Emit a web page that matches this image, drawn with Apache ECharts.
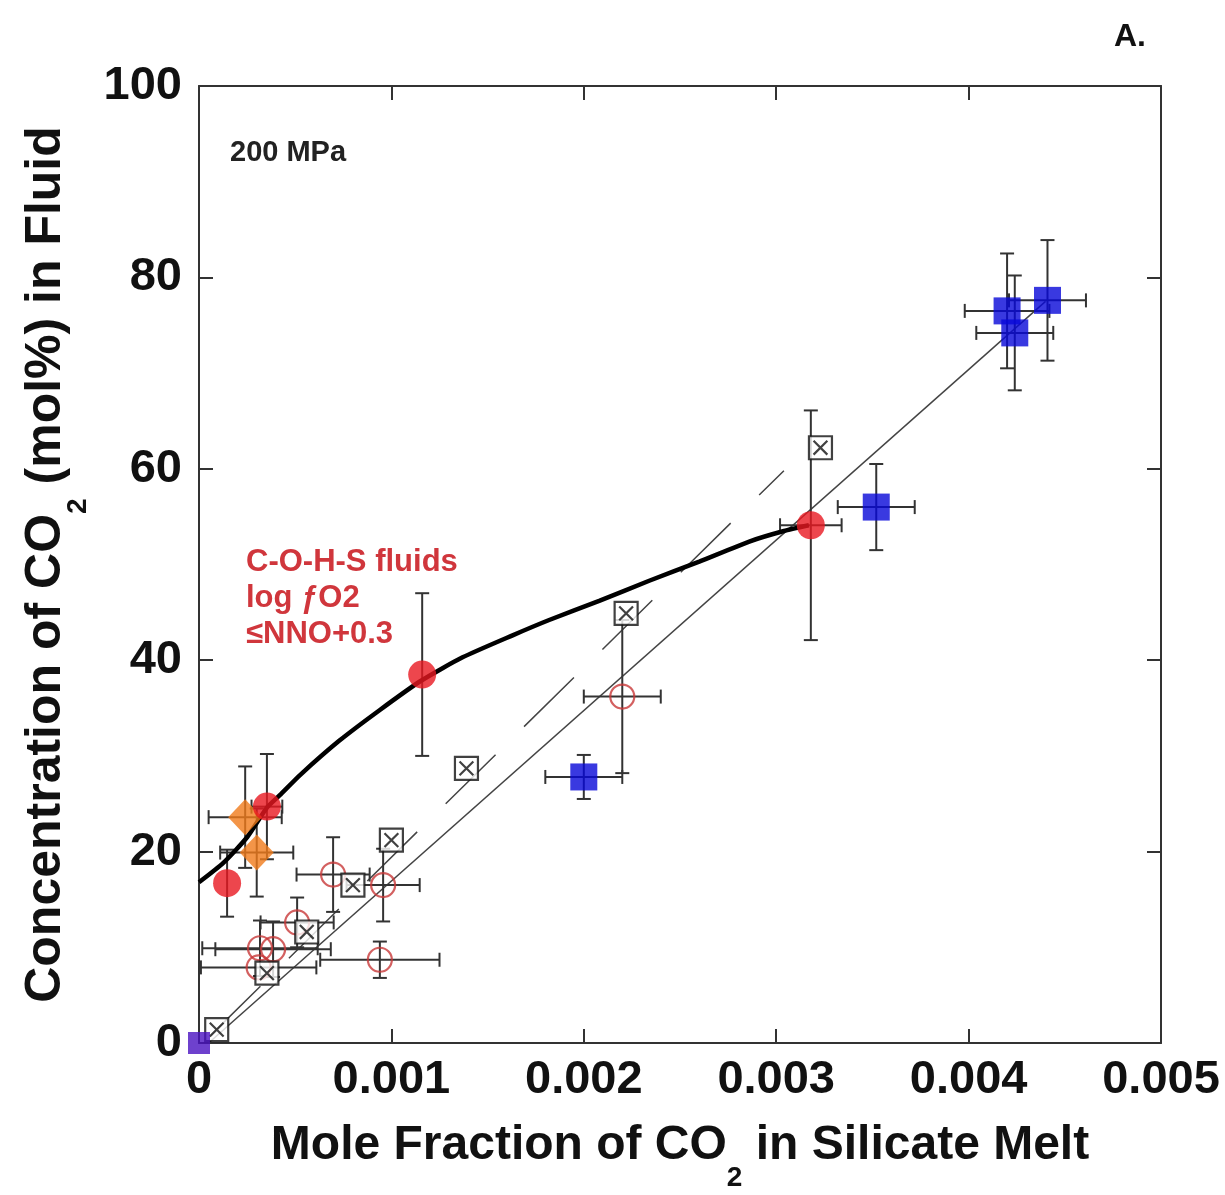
<!DOCTYPE html>
<html>
<head>
<meta charset="utf-8">
<script src="https://cdn.jsdelivr.net/npm/echarts@6/dist/echarts.min.js"></script>
<style>
  html, body { margin: 0; padding: 0; background: #fff; }
  #chart { width: 1225px; height: 1195px; }
</style>
</head>
<body>
<div id="chart"></div>
<script>
// blue filled squares
var blueX = [0.0042, 0.00424, 0.00441, 0.00352, 0.0020];
var blueY = [76.5, 74.2, 77.6, 56.0, 27.8];
var blueXErr = [0.00022, 0.0002, 0.0002, 0.0002, 0.0002];
var blueYErr = [6.0, 6.0, 6.3, 4.5, 2.3];

// red filled circles (C-O-H-S fluids)
var redX = [0.000146, 0.000353, 0.00116, 0.00318];
var redY = [16.7, 24.7, 38.5, 54.1];
var redXErr = [0, 0.00008, 0, 0.00016];
var redYErr = [3.5, 5.5, 8.5, 12];

// orange diamonds
var orangeX = [0.00024, 0.0003];
var orangeY = [23.6, 19.9];
var orangeXErr = [0.00019, 0.00019];
var orangeYErr = [5.3, 4.6];

// open red circles
var openX = [0.000697, 0.000957, 0.00051, 0.000317, 0.000385, 0.00031, 0.00094, 0.0022];
var openY = [17.6, 16.5, 12.6, 9.9, 9.8, 7.9, 8.7, 36.2];
var openXErr = [0.00019, 0.00019, 0.00019, 0.0003, 0.0003, 0.0003, 0.00031, 0.0002];
var openYErr = [3.9, 3.8, 2.6, 2.9, 2.9, 0, 1.9, 8];

// crossed open squares
var crossX = [0.000092, 0.000353, 0.00056, 0.0008, 0.001, 0.00139, 0.00222, 0.00323];
var crossY = [1.4, 7.3, 11.6, 16.5, 21.2, 28.7, 44.9, 62.2];

// origin point
var originX = [0];
var originY = [0];

// thick black trend curve
var curveX = [0, 0.000125, 0.00025, 0.000353, 0.00042, 0.000525, 0.00073, 0.00094, 0.00115, 0.00137, 0.00163, 0.00182, 0.00208, 0.00234, 0.0026, 0.00286, 0.00304, 0.00317];
var curveY = [16.8, 18.8, 21.5, 24.6, 25.9, 28.0, 31.6, 34.8, 37.8, 40.3, 42.6, 44.2, 46.2, 48.3, 50.3, 52.4, 53.5, 54.1];

// thin straight lines
var solidLineX = [0.00005, 0.0044];
var solidLineY = [0, 77.5];
var dashLineX = [0.00006, 0.00304];
var dashLineY = [0.8, 59.8];

var xTicks = [0, 0.001, 0.002, 0.003, 0.004, 0.005];
var yTicks = [0, 20, 40, 60, 80, 100];

function pts(xs, ys) {
  return xs.map(function (x, i) { return [x, ys[i]]; });
}
function errPts(xs, ys, ex, ey) {
  return xs.map(function (x, i) { return [x, ys[i], ex[i], ey[i]]; });
}

function renderErr(params, api) {
  var x = api.value(0), y = api.value(1), ex = api.value(2), ey = api.value(3);
  var cap = 7;
  var st = { stroke: '#333', lineWidth: 2 };
  var kids = [];
  if (ey > 0) {
    var t = api.coord([x, y + ey]);
    var b = api.coord([x, Math.max(0, y - ey)]);
    kids.push({ type: 'line', shape: { x1: t[0], y1: t[1], x2: b[0], y2: b[1] }, style: st });
    kids.push({ type: 'line', shape: { x1: t[0] - cap, y1: t[1], x2: t[0] + cap, y2: t[1] }, style: st });
    kids.push({ type: 'line', shape: { x1: b[0] - cap, y1: b[1], x2: b[0] + cap, y2: b[1] }, style: st });
  }
  if (ex > 0) {
    var l = api.coord([Math.max(0, x - ex), y]);
    var r = api.coord([x + ex, y]);
    kids.push({ type: 'line', shape: { x1: l[0], y1: l[1], x2: r[0], y2: r[1] }, style: st });
    kids.push({ type: 'line', shape: { x1: l[0], y1: l[1] - cap, x2: l[0], y2: l[1] + cap }, style: st });
    kids.push({ type: 'line', shape: { x1: r[0], y1: r[1] - cap, x2: r[0], y2: r[1] + cap }, style: st });
  }
  return { type: 'group', children: kids };
}

function errSeries(data) {
  return {
    type: 'custom',
    renderItem: renderErr,
    data: data,
    z: 2,
    silent: true
  };
}

var font = '"Liberation Sans", Arial, sans-serif';
var frameLine = { onZero: false, lineStyle: { color: '#333', width: 2 } };
var frameTick = { inside: true, length: 14, lineStyle: { color: '#333', width: 2 } };
var myChart = echarts.init(document.getElementById('chart'));

var option = {
  backgroundColor: '#fff',
  animation: false,
  textStyle: { fontFamily: font },
  grid: { left: 199, right: 64, top: 86, bottom: 152, outerBoundsMode: 'none', containLabel: false },
  xAxis: [{
    type: 'value',
    min: 0, max: 0.005, interval: 0.001,
    axisLine: frameLine,
    axisTick: frameTick,
    splitLine: { show: false },
    axisLabel: {
      color: '#111', fontSize: 47, fontWeight: 'bold', margin: 14,
      formatter: function (v) { return xTicks.indexOf(v) >= 0 ? (v === 0 ? '0' : v.toFixed(3)) : ''; }
    },
    name: '{a|Mole Fraction of CO}{s|2}{a| in Silicate Melt}',
    nameLocation: 'middle',
    nameGap: 57,
    nameTextStyle: {
      rich: {
        a: { fontSize: 48, fontWeight: 'bold', color: '#111', fontFamily: font },
        s: { fontSize: 28, fontWeight: 'bold', color: '#111', fontFamily: font, padding: [64, 0, 0, 0] }
      }
    }
  }, {
    type: 'value', position: 'top',
    min: 0, max: 0.005, interval: 0.001,
    axisLine: frameLine,
    axisTick: frameTick,
    axisLabel: { show: false },
    splitLine: { show: false }
  }],
  yAxis: [{
    type: 'value',
    min: 0, max: 100, interval: 20,
    axisLine: frameLine,
    axisTick: frameTick,
    splitLine: { show: false },
    axisLabel: { color: '#111', fontSize: 47, fontWeight: 'bold', margin: 17 },
    name: '{a|Concentration of CO}{s|2}{a| (mol%) in Fluid}',
    nameLocation: 'middle',
    nameGap: 107,
    nameRotate: 90,
    nameTextStyle: {
      rich: {
        a: { fontSize: 50, fontWeight: 'bold', color: '#111', fontFamily: font },
        s: { fontSize: 28, fontWeight: 'bold', color: '#111', fontFamily: font, padding: [64, 0, 0, 0] }
      }
    }
  }, {
    type: 'value', position: 'right',
    min: 0, max: 100, interval: 20,
    axisLine: frameLine,
    axisTick: frameTick,
    axisLabel: { show: false },
    splitLine: { show: false }
  }],
  graphic: [
    { type: 'text', left: 230, top: 138, style: { text: '200 MPa', font: 'bold 29px ' + font, fill: '#222' } },
    { type: 'text', left: 246, top: 544, style: { text: 'C-O-H-S fluids\nlog \u0192O2\n\u2264NNO+0.3', font: 'bold 31px ' + font, fill: '#d0363c', lineHeight: 36 } },
    { type: 'text', left: 1114, top: 21, style: { text: 'A.', font: 'bold 32px ' + font, fill: '#111' } }
  ],
  series: [
    {
      type: 'line', data: pts(solidLineX, solidLineY), showSymbol: false, symbol: 'none',
      lineStyle: { color: '#444', width: 1.5 }, z: 1, silent: true
    },
    {
      type: 'line', data: pts(dashLineX, dashLineY), showSymbol: false, symbol: 'none',
      lineStyle: { color: '#444', width: 1.5, type: [70, 40] }, z: 1, silent: true
    },
    {
      type: 'line', data: pts(curveX, curveY), showSymbol: false, symbol: 'none', smooth: 0.2,
      lineStyle: { color: '#000', width: 4.5 }, z: 3, silent: true
    },
    errSeries(errPts(blueX, blueY, blueXErr, blueYErr)),
    errSeries(errPts(redX, redY, redXErr, redYErr)),
    errSeries(errPts(orangeX, orangeY, orangeXErr, orangeYErr)),
    errSeries(errPts(openX, openY, openXErr, openYErr)),
    {
      type: 'scatter', data: pts(openX, openY), symbol: 'circle', symbolSize: 24,
      itemStyle: { color: 'rgba(255,255,255,0)', borderColor: '#c83838', borderWidth: 2.2 }, z: 4
    },
    {
      type: 'scatter', data: pts(crossX, crossY),
      symbol: 'path://M0 0H20V20H0Z M4 4L16 16 M16 4L4 16', symbolSize: 23,
      itemStyle: { color: '#fff', borderColor: '#111', borderWidth: 2.2 }, z: 5
    },
    {
      type: 'scatter', data: pts(blueX, blueY), symbol: 'rect', symbolSize: 27,
      itemStyle: { color: '#0808d8' }, z: 5
    },
    {
      type: 'scatter', data: pts(orangeX, orangeY), symbol: 'diamond', symbolSize: [34, 36],
      itemStyle: { color: '#f07a1a' }, z: 5
    },
    {
      type: 'scatter', data: pts(redX, redY), symbol: 'circle', symbolSize: 28,
      itemStyle: { color: '#e81820' }, z: 6
    },
    {
      type: 'scatter', data: pts(originX, originY), symbol: 'rect', symbolSize: 22,
      itemStyle: { color: '#4a12c0' }, z: 6
    }
  ]
};
myChart.setOption(option);
</script>
</body>
</html>
